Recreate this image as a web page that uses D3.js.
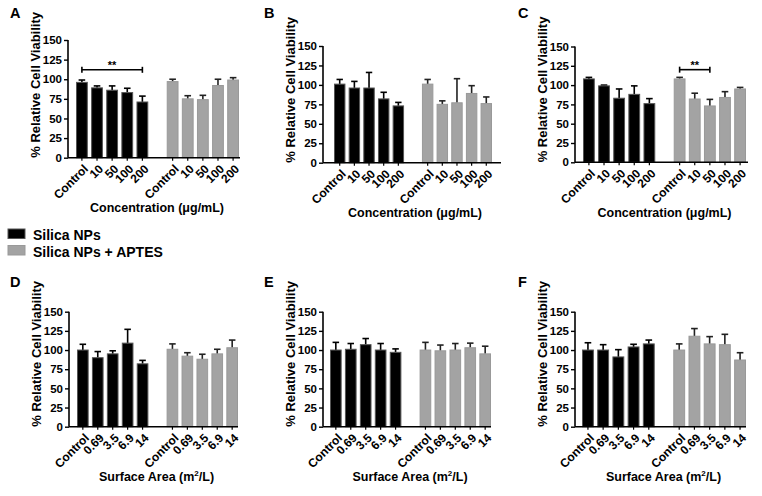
<!DOCTYPE html>
<html>
<head>
<meta charset="utf-8">
<script src="https://cdn.jsdelivr.net/npm/d3@7"></script>
<style>
  body { margin: 0; background: #fff; }
  svg { display: block; font-family: "Liberation Sans", Arial, sans-serif; font-weight: bold; }
</style>
</head>
<body>
<svg width="762" height="496"></svg>
<script>
var concLabels = ["Control", "10", "50", "100", "200"];
var areaLabels = ["Control", "0.69", "3.5", "6.9", "14"];
var yTicks = [0, 25, 50, 75, 100, 125, 150];
var seriesNames = ["Silica NPs", "Silica NPs + APTES"];

// means and upper error (SD)
var silicaA = [96, 89, 86, 83, 71],   silicaAErr = [3, 2.5, 5.5, 5.5, 7.5];
var aptesA  = [97, 75, 74, 92, 99],   aptesAErr  = [3, 4, 5.5, 8, 3];
var silicaB = [101, 96, 96, 82, 73],  silicaBErr = [6, 8.5, 20, 8.5, 4.5];
var aptesB  = [101, 75, 77, 89, 76],  aptesBErr  = [6, 4.5, 31, 10, 8.5];
var silicaC = [108, 99, 83, 88, 76],  silicaCErr = [2, 1, 12, 11, 6.5];
var aptesC  = [108, 82, 73, 84, 95],  aptesCErr  = [2, 7.5, 8.5, 7.5, 2];
var silicaD = [100, 90, 95, 109, 82], silicaDErr = [7.5, 8, 4, 18, 4.5];
var aptesD  = [101, 92, 88, 95, 103], aptesDErr  = [7, 4.5, 6.5, 6, 10];
var silicaE = [100, 101, 107, 100, 97], silicaEErr = [10, 7.5, 8, 8.5, 4.5];
var aptesE  = [100, 99, 100, 103, 95],  aptesEErr  = [10, 7.5, 8.5, 6, 10];
var silicaF = [100, 100, 91, 104, 108], silicaFErr = [9.5, 7, 9.5, 3.5, 5];
var aptesF  = [100, 118, 108, 107, 87], aptesFErr  = [8, 10, 9.5, 13.5, 9.5];

// significance brackets: [first slot, last slot, level]
var sigA = [0, 4, 112];
var sigC = [6, 8, 120];

var svg = d3.select("svg");
var colors = ["#000000", "#a3a3a3"];
var strokes = ["#555555", "#999999"];
var errColors = ["#000000", "#222222"];

var panels = [
  { letter: "A", labels: concLabels, s: silicaA, se: silicaAErr, a: aptesA, ae: aptesAErr, sig: sigA,
    ax: 68, axEnd: 240, b0: 76, b1: 239, top: 40, bottom: 157.7, titleY: 212, title: "conc", lx: 10, ly: 18 },
  { letter: "B", labels: concLabels, s: silicaB, se: silicaBErr, a: aptesB, ae: aptesBErr, sig: null,
    ax: 323, axEnd: 501, b0: 334, b1: 492, top: 46, bottom: 162.7, titleY: 217, title: "conc", lx: 264, ly: 18 },
  { letter: "C", labels: concLabels, s: silicaC, se: silicaCErr, a: aptesC, ae: aptesCErr, sig: sigC,
    ax: 575, axEnd: 748, b0: 583, b1: 746, top: 46.5, bottom: 162.3, titleY: 217, title: "conc", lx: 518, ly: 18 },
  { letter: "D", labels: areaLabels, s: silicaD, se: silicaDErr, a: aptesD, ae: aptesDErr, sig: null,
    ax: 69, axEnd: 238, b0: 77, b1: 238, top: 311.7, bottom: 426.7, titleY: 481, title: "area", lx: 10, ly: 287 },
  { letter: "E", labels: areaLabels, s: silicaE, se: silicaEErr, a: aptesE, ae: aptesEErr, sig: null,
    ax: 323, axEnd: 491, b0: 330, b1: 491, top: 311.7, bottom: 426.7, titleY: 481, title: "area", lx: 264, ly: 287 },
  { letter: "F", labels: areaLabels, s: silicaF, se: silicaFErr, a: aptesF, ae: aptesFErr, sig: null,
    ax: 575, axEnd: 746, b0: 582, b1: 746, top: 311.7, bottom: 426.7, titleY: 481, title: "area", lx: 518, ly: 287 }
];

panels.forEach(function (p) {
  var g = svg.append("g");
  var y = d3.scaleLinear().domain([0, 150]).range([p.bottom, p.top]);
  var x = d3.scaleBand().domain(d3.range(11)).range([p.b0, p.b1]).paddingInner(0.22).paddingOuter(0);

  var rows = [];
  p.s.forEach(function (v, i) { rows.push({ slot: i, v: v, e: p.se[i], k: 0, label: p.labels[i] }); });
  p.a.forEach(function (v, i) { rows.push({ slot: i + 6, v: v, e: p.ae[i], k: 1, label: p.labels[i] }); });

  // error bars (drawn first so bar covers lower half)
  var bw = x.bandwidth();
  rows.forEach(function (d) {
    var cx = x(d.slot) + bw / 2;
    g.append("line").attr("x1", cx).attr("x2", cx)
      .attr("y1", y(d.v)).attr("y2", y(d.v + d.e))
      .attr("stroke", errColors[d.k]).attr("stroke-width", 1.6);
    g.append("line").attr("x1", cx - bw * 0.28).attr("x2", cx + bw * 0.28)
      .attr("y1", y(d.v + d.e)).attr("y2", y(d.v + d.e))
      .attr("stroke", errColors[d.k]).attr("stroke-width", 1.6);
  });

  g.selectAll("rect.bar").data(rows).enter().append("rect")
    .attr("class", "bar")
    .attr("x", function (d) { return x(d.slot) + 0.5; })
    .attr("width", bw - 1)
    .attr("y", function (d) { return y(d.v); })
    .attr("height", function (d) { return y(0) - y(d.v); })
    .attr("fill", function (d) { return colors[d.k]; })
    .attr("stroke", function (d) { return strokes[d.k]; })
    .attr("stroke-width", 1);

  // y axis
  var yAxis = d3.axisLeft(y).tickValues(yTicks).tickSize(4).tickPadding(2);
  var ya = g.append("g").attr("transform", "translate(" + p.ax + ",0)").call(yAxis);
  ya.select(".domain").attr("stroke-width", 1.6).attr("d", "M0," + y(150) + "V" + y(0));
  ya.selectAll(".tick line").attr("stroke-width", 1.4);
  ya.selectAll("text").attr("font-size", 11.5).attr("font-weight", "bold").attr("fill", "#000");

  // x axis line + ticks
  g.append("line").attr("x1", p.ax).attr("x2", p.axEnd).attr("y1", y(0)).attr("y2", y(0))
    .attr("stroke", "#000").attr("stroke-width", 1.6);
  rows.forEach(function (d) {
    var cx = x(d.slot) + bw / 2;
    g.append("line").attr("x1", cx).attr("x2", cx).attr("y1", y(0)).attr("y2", y(0) + 3)
      .attr("stroke", "#000").attr("stroke-width", 1.2);
    g.append("text")
      .attr("transform", "translate(" + (cx + 4) + "," + (y(0) + 9) + ") rotate(-45)")
      .attr("text-anchor", "end").attr("dy", "0.35em")
      .attr("font-size", 12).text(d.label);
  });

  // significance bracket
  if (p.sig) {
    var xa = x(p.sig[0]) + bw / 2, xb = x(p.sig[1]) + bw / 2, ys = y(p.sig[2]);
    g.append("line").attr("x1", xa).attr("x2", xb).attr("y1", ys).attr("y2", ys)
      .attr("stroke", "#000").attr("stroke-width", 1.6);
    [xa, xb].forEach(function (xx) {
      g.append("line").attr("x1", xx).attr("x2", xx).attr("y1", ys - 3).attr("y2", ys + 3)
        .attr("stroke", "#000").attr("stroke-width", 1.6);
    });
    g.append("text").attr("x", (xa + xb) / 2).attr("y", ys - 1)
      .attr("text-anchor", "middle").attr("font-size", 11).text("**");
  }

  // y label
  g.append("text")
    .attr("transform", "translate(" + (p.ax - 28) + "," + p.bottom + ") rotate(-90)")
    .attr("text-anchor", "start").attr("font-size", 13)
    .text("% Relative Cell Viability");

  // x title
  var t = g.append("text").attr("x", (p.ax + p.axEnd) / 2 + 3).attr("y", p.titleY)
    .attr("text-anchor", "middle").attr("font-size", 12.5);
  if (p.title === "conc") {
    t.text("Concentration (\u03bcg/mL)");
  } else {
    t.append("tspan").text("Surface Area (m");
    t.append("tspan").attr("font-size", 8).attr("dy", -5).text("2");
    t.append("tspan").attr("dy", 5).text("/L)");
  }

  // panel letter
  g.append("text").attr("x", p.lx).attr("y", p.ly).attr("font-size", 14.5).text(p.letter);
});

// legend
var leg = svg.append("g");
seriesNames.forEach(function (name, i) {
  leg.append("rect").attr("x", 8).attr("y", 229 + i * 16.5).attr("width", 17).attr("height", 9.5)
    .attr("fill", colors[i]).attr("stroke", strokes[i]).attr("stroke-width", 1);
  leg.append("text").attr("x", 33).attr("y", 240 + i * 16.5).attr("font-size", 14).text(name);
});
</script>
</body>
</html>
